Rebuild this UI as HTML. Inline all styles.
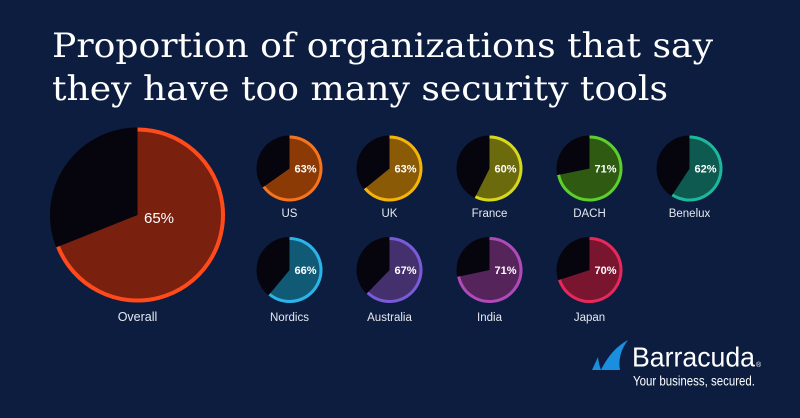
<!DOCTYPE html>
<html><head><meta charset="utf-8"><style>
html,body{margin:0;padding:0;background:#0c1d40;}
svg{display:block;}
</style></head><body>
<svg width="800" height="418" viewBox="0 0 800 418" xmlns="http://www.w3.org/2000/svg">
<rect width="800" height="418" fill="#0c1d40"/>
<g font-family="'DejaVu Serif','Liberation Serif',serif" font-size="34" fill="#ffffff">
<text x="52" y="57" textLength="661" lengthAdjust="spacingAndGlyphs">Proportion of organizations that say</text>
<text x="52" y="100" textLength="616" lengthAdjust="spacingAndGlyphs">they have too many security tools</text>
</g>

<!-- Overall -->
<path d="M137.5,215 L137.5,127.5 A87.5,87.5 0 1 1 56.2,247.35 Z" fill="#7a200f"/>
<path d="M137.5,215 L56.2,247.35 A87.5,87.5 0 0 1 137.5,127.5 Z" fill="#06050e"/>
<path d="M137.5,129.5 A85.5,85.5 0 1 1 58.06,246.61" fill="none" stroke="#ff4a1c" stroke-width="4"/>

<!-- Row 1 -->
<path d="M289.5,168.5 L289.5,135.5 A33,33 0 1 1 262.55,187.54 Z" fill="#8b3a06"/>
<path d="M289.5,168.5 L262.55,187.54 A33,33 0 0 1 289.5,135.5 Z" fill="#06050e"/>
<path d="M289.5,137 A31.5,31.5 0 1 1 263.78,186.68" fill="none" stroke="#f7731c" stroke-width="3"/>

<path d="M389.5,168.5 L389.5,135.5 A33,33 0 1 1 363.86,189.27 Z" fill="#8a5a06"/>
<path d="M389.5,168.5 L363.86,189.27 A33,33 0 0 1 389.5,135.5 Z" fill="#06050e"/>
<path d="M389.5,137 A31.5,31.5 0 1 1 365.02,188.32" fill="none" stroke="#f5b40a" stroke-width="3"/>

<path d="M489.5,168.5 L489.5,135.5 A33,33 0 1 1 474.72,198.01 Z" fill="#6b6a0c"/>
<path d="M489.5,168.5 L474.72,198.01 A33,33 0 0 1 489.5,135.5 Z" fill="#06050e"/>
<path d="M489.5,137 A31.5,31.5 0 1 1 475.39,196.67" fill="none" stroke="#d6d81e" stroke-width="3"/>

<path d="M589.5,168.5 L589.5,135.5 A33,33 0 1 1 557.16,175.08 Z" fill="#2f5a12"/>
<path d="M589.5,168.5 L557.16,175.08 A33,33 0 0 1 589.5,135.5 Z" fill="#06050e"/>
<path d="M589.5,137 A31.5,31.5 0 1 1 558.63,174.78" fill="none" stroke="#5ccf2c" stroke-width="3"/>

<path d="M689.5,168.5 L689.5,135.5 A33,33 0 1 1 671.53,196.18 Z" fill="#0f5a50"/>
<path d="M689.5,168.5 L671.53,196.18 A33,33 0 0 1 689.5,135.5 Z" fill="#06050e"/>
<path d="M689.5,137 A31.5,31.5 0 1 1 672.35,194.92" fill="none" stroke="#1cb89c" stroke-width="3"/>

<!-- Row 2 -->
<path d="M289.5,270 L289.5,237 A33,33 0 1 1 268.47,295.43 Z" fill="#115a76"/>
<path d="M289.5,270 L268.47,295.43 A33,33 0 0 1 289.5,237 Z" fill="#06050e"/>
<path d="M289.5,238.5 A31.5,31.5 0 1 1 269.42,294.27" fill="none" stroke="#2ab4e8" stroke-width="3"/>

<path d="M389.5,270 L389.5,237 A33,33 0 1 1 366.57,293.74 Z" fill="#45306e"/>
<path d="M389.5,270 L366.57,293.74 A33,33 0 0 1 389.5,237 Z" fill="#06050e"/>
<path d="M389.5,238.5 A31.5,31.5 0 1 1 367.62,292.66" fill="none" stroke="#7a5ad8" stroke-width="3"/>

<path d="M489.5,270 L489.5,237 A33,33 0 1 1 457.22,276.86 Z" fill="#55245a"/>
<path d="M489.5,270 L457.22,276.86 A33,33 0 0 1 489.5,237 Z" fill="#06050e"/>
<path d="M489.5,238.5 A31.5,31.5 0 1 1 458.69,276.55" fill="none" stroke="#b04ab8" stroke-width="3"/>

<path d="M589.5,270 L589.5,237 A33,33 0 1 1 558.11,280.2 Z" fill="#7a1530"/>
<path d="M589.5,270 L558.11,280.2 A33,33 0 0 1 589.5,237 Z" fill="#06050e"/>
<path d="M589.5,238.5 A31.5,31.5 0 1 1 559.54,279.73" fill="none" stroke="#e8285a" stroke-width="3"/>

<!-- percentage labels -->
<g font-family="'Liberation Sans',sans-serif" font-weight="bold" fill="#ffffff" text-anchor="middle" font-size="11">
<text x="305.5" y="172.5">63%</text>
<text x="405.5" y="172.5">63%</text>
<text x="505.5" y="172.5">60%</text>
<text x="605.5" y="172.5">71%</text>
<text x="705.5" y="172.5">62%</text>
<text x="305.5" y="274">66%</text>
<text x="405.5" y="274">67%</text>
<text x="505.5" y="274">71%</text>
<text x="605.5" y="274">70%</text>
<text x="159" y="223" font-size="15" font-weight="normal">65%</text>
</g>

<!-- category labels -->
<g font-family="'Liberation Sans',sans-serif" fill="#e6e8ee" text-anchor="middle" font-size="11.5">
<text x="289.5" y="217">US</text>
<text x="389.5" y="217">UK</text>
<text x="489.5" y="217">France</text>
<text x="589.5" y="217">DACH</text>
<text x="689.5" y="217">Benelux</text>
<text x="289.5" y="321">Nordics</text>
<text x="389.5" y="321">Australia</text>
<text x="489.5" y="321">India</text>
<text x="589.5" y="321">Japan</text>
<text x="137.5" y="321" font-size="12.5">Overall</text>
</g>

<!-- Logo -->
<path d="M601,370 C607,358 615,347 628,340 C621,349 618,360 620,370 Z" fill="#1a8fe0"/>
<path d="M592,370 L598,357 C598.5,362 599.5,366 601,370 Z" fill="#1a8fe0"/>
<g font-family="'Liberation Sans',sans-serif" fill="#ffffff">
<text x="632" y="366.5" font-size="28" textLength="123" lengthAdjust="spacingAndGlyphs">Barracuda</text>
<text x="756" y="367" font-size="7">®</text>
<text x="633" y="385.5" font-size="13.5" textLength="122" lengthAdjust="spacingAndGlyphs">Your business, secured.</text>
</g>
</svg>
</body></html>
